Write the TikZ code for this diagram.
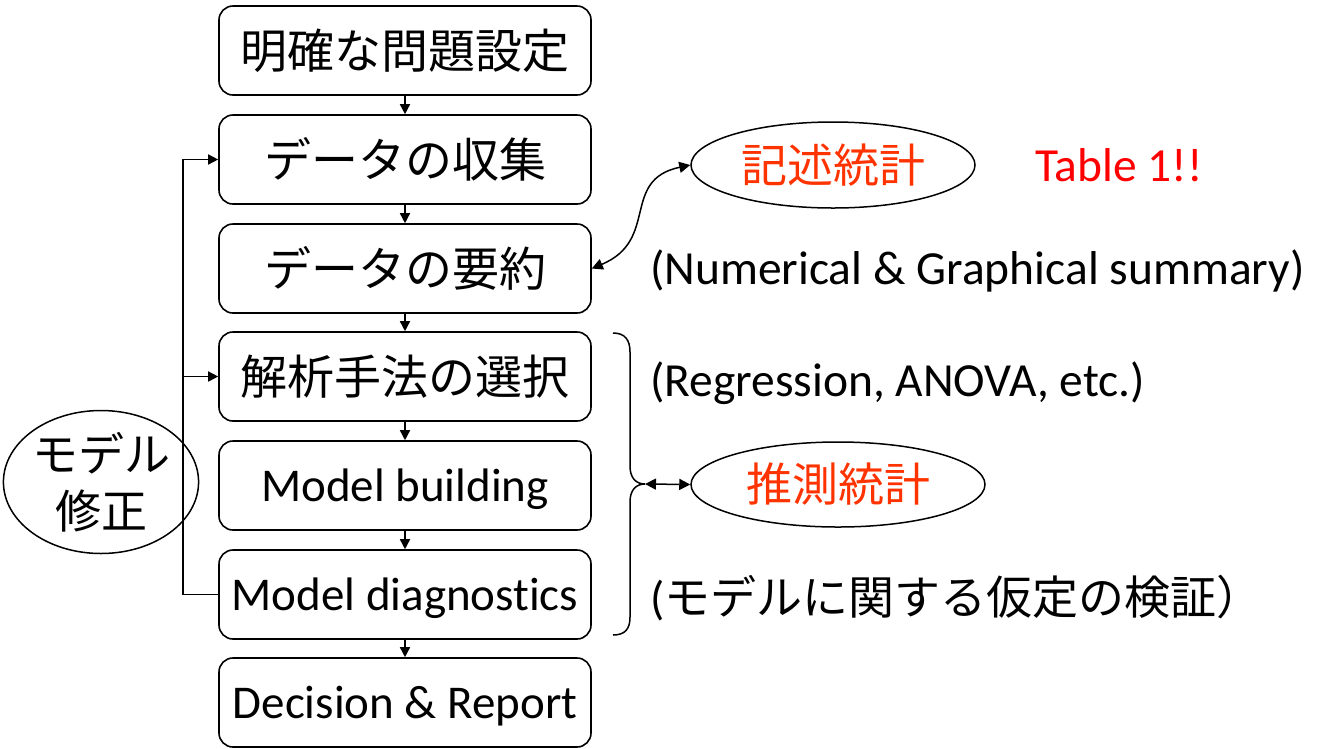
\documentclass[tikz,border=0pt]{standalone}
\usepackage{fontspec}
\setmainfont{Carlito}[Ligatures=NoCommon]
\newfontfamily\jp{Noto Sans CJK JP}
\usetikzlibrary{arrows.meta,shapes.geometric}
\definecolor{oranred}{RGB}{255,51,0}
\definecolor{pured}{RGB}{255,0,0}
\newcommand{\lowr}[1]{\raisebox{-16pt}[0pt][0pt]{#1}}
\begin{document}
\begin{tikzpicture}[x=1pt,y=-1pt,
  every node/.style={font=\fontsize{47}{56}\selectfont},
  box/.style={draw, rounded corners=14pt, minimum width=372pt, minimum height=89pt, line width=1.6pt, inner sep=0pt},
  arr/.style={line width=1.5pt, -{Triangle[length=10pt,width=10pt]}},
  darr/.style={line width=1.5pt, {Triangle[length=11pt,width=11pt]}-{Triangle[length=11pt,width=11pt]}},
  ell/.style={draw, ellipse, line width=1.5pt, inner sep=0pt},
  lbl/.style={anchor=base west, inner sep=0pt, font=\fontsize{47.5}{56}\selectfont},
  redtxt/.style={text=oranred, font=\fontsize{46}{56}\selectfont\jp},
]
\useasboundingbox (0,0) rectangle (1317,748);
% boxes
\node[box] (b1) at (405,50.5) {\jp 明確な問題設定};
\node[box] (b2) at (405,159.5) {\jp データの収集};
\node[box] (b3) at (405,268.5) {\jp データの要約};
\node[box] (b4) at (405,376.5) {\jp 解析手法の選択};
\node[box] (b5) at (405,485.5) {\lowr{Model building}};
\node[box] (b6) at (405,594.5) {\lowr{Model diagnostics}};
\node[box] (b7) at (405,702.5) {\lowr{Decision \& Report}};
\foreach \a/\b in {b1/b2,b2/b3,b3/b4,b4/b5,b5/b6,b6/b7}
  \draw[arr] (\a.south) -- (\b.north);
% feedback loop
\coordinate (lx) at (183,0);
\draw[arr] (b6.west) -- (b6.west -| lx) |- (b2.west);
\draw[arr] (b4.west -| lx) -- (b4.west);
\node[ell, minimum width=190pt, minimum height=143pt, align=center, font=\fontsize{46}{57}\selectfont\jp] (mod) at (101,482) {モデル\\修正};
% descriptive statistics
\node[ell, minimum width=284pt, minimum height=86pt, redtxt] (e1) at (833,165) {記述統計};
\node[lbl, text=pured] (t1) at (1035,181) {Table 1!!};
\draw[darr] (b3.east) .. controls (660,240) and (620,180) .. (e1.west);
\node[lbl] (n1) at (650,284) {(Numerical \& Graphical summary)};
% inferential statistics
\draw[line width=1.5pt] (613,333) .. controls (625,333) and (630,340) .. (630,352) -- (630,466)
  .. controls (630,478) and (636,484) .. (645,484)
  .. controls (636,484) and (630,490) .. (630,502) -- (630,617)
  .. controls (630,629) and (625,635) .. (613,635);
\coordinate (bt) at (645,484);
\node[ell, minimum width=294pt, minimum height=85pt, redtxt] (e2) at (838,484.5) {推測統計};
\draw[darr] (bt) -- (e2.west);
\node[lbl] (n2) at (650,396) {(Regression, ANOVA, etc.)};
\node[anchor=west, inner sep=0pt] (n3) at (650,598) {(\jp\fontsize{46}{56}\selectfont モデルに関する仮定の検証）};
\end{tikzpicture}
\end{document}
